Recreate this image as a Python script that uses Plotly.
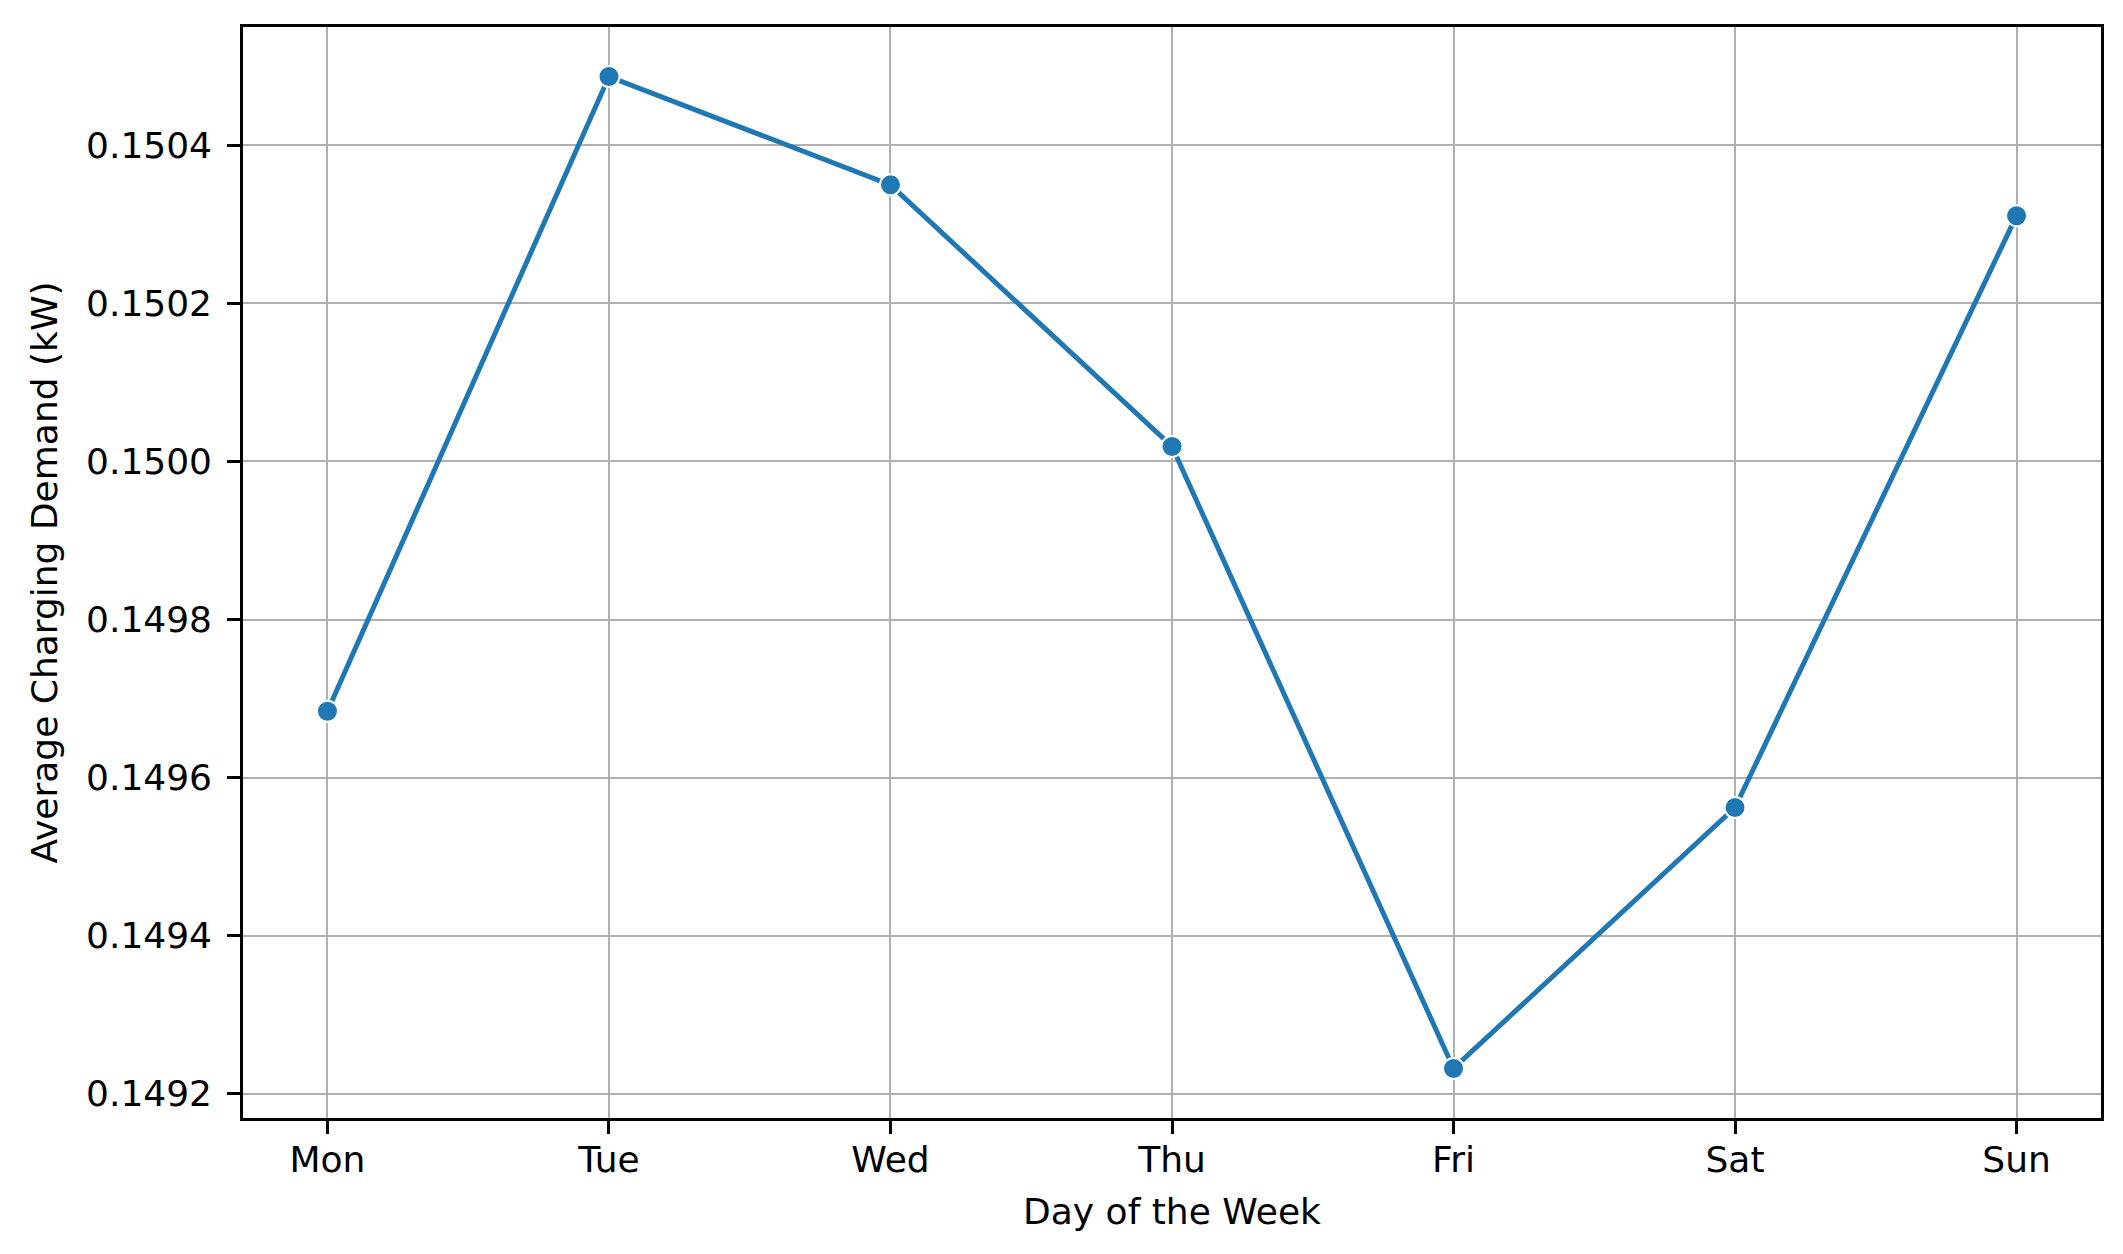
import plotly.graph_objects as go

days = ["Mon", "Tue", "Wed", "Thu", "Fri", "Sat", "Sun"]
avg_demand = [0.149684, 0.150487, 0.150350, 0.150019, 0.149232, 0.149562, 0.150311]
y_ticks = [0.1492, 0.1494, 0.1496, 0.1498, 0.1500, 0.1502, 0.1504]
y_tick_text = ["0.1492", "0.1494", "0.1496", "0.1498", "0.1500", "0.1502", "0.1504"]

x_idx = list(range(len(days)))

fig = go.Figure()
fig.add_trace(go.Scatter(
    x=x_idx, y=avg_demand, mode="lines+markers",
    line=dict(color="#1f77b4", width=5),
    marker=dict(color="#1f77b4", size=21, line=dict(color="white", width=2)),
    showlegend=False,
))

ymin, ymax = min(avg_demand), max(avg_demand)
pad = (ymax - ymin) * 0.05

font_family = "DejaVu Sans"
fs = 36
fig.update_layout(
    width=2123, height=1254,
    margin=dict(l=235, r=30, t=19, b=144),
    paper_bgcolor="white", plot_bgcolor="white",
    font=dict(family=font_family, size=fs, color="black"),
)
fig.update_xaxes(
    range=[-0.3, 6.3],
    tickmode="array", tickvals=x_idx, ticktext=days,
    showgrid=True, gridcolor="#b0b0b0", gridwidth=2.4,
    showline=True, linecolor="black", linewidth=2.6, mirror=True,
    ticks="outside", ticklen=13, tickwidth=2.6, tickcolor="black",
    tickfont=dict(size=fs), ticklabelstandoff=-5,
    title=dict(text="Day of the Week", font=dict(size=fs), standoff=20),
    zeroline=False, automargin=False,
)
fig.update_yaxes(
    range=[ymin - pad, ymax + pad],
    tickmode="array", tickvals=y_ticks, ticktext=y_tick_text,
    showgrid=True, gridcolor="#b0b0b0", gridwidth=2.4,
    showline=True, linecolor="black", linewidth=2.6, mirror=True,
    ticks="outside", ticklen=13, tickwidth=2.6, tickcolor="black",
    tickfont=dict(size=fs), ticklabelstandoff=8,
    title=dict(text="Average Charging Demand (kW)", font=dict(size=fs), standoff=18),
    zeroline=False, automargin=False,
)

fig.write_html("out.html")
